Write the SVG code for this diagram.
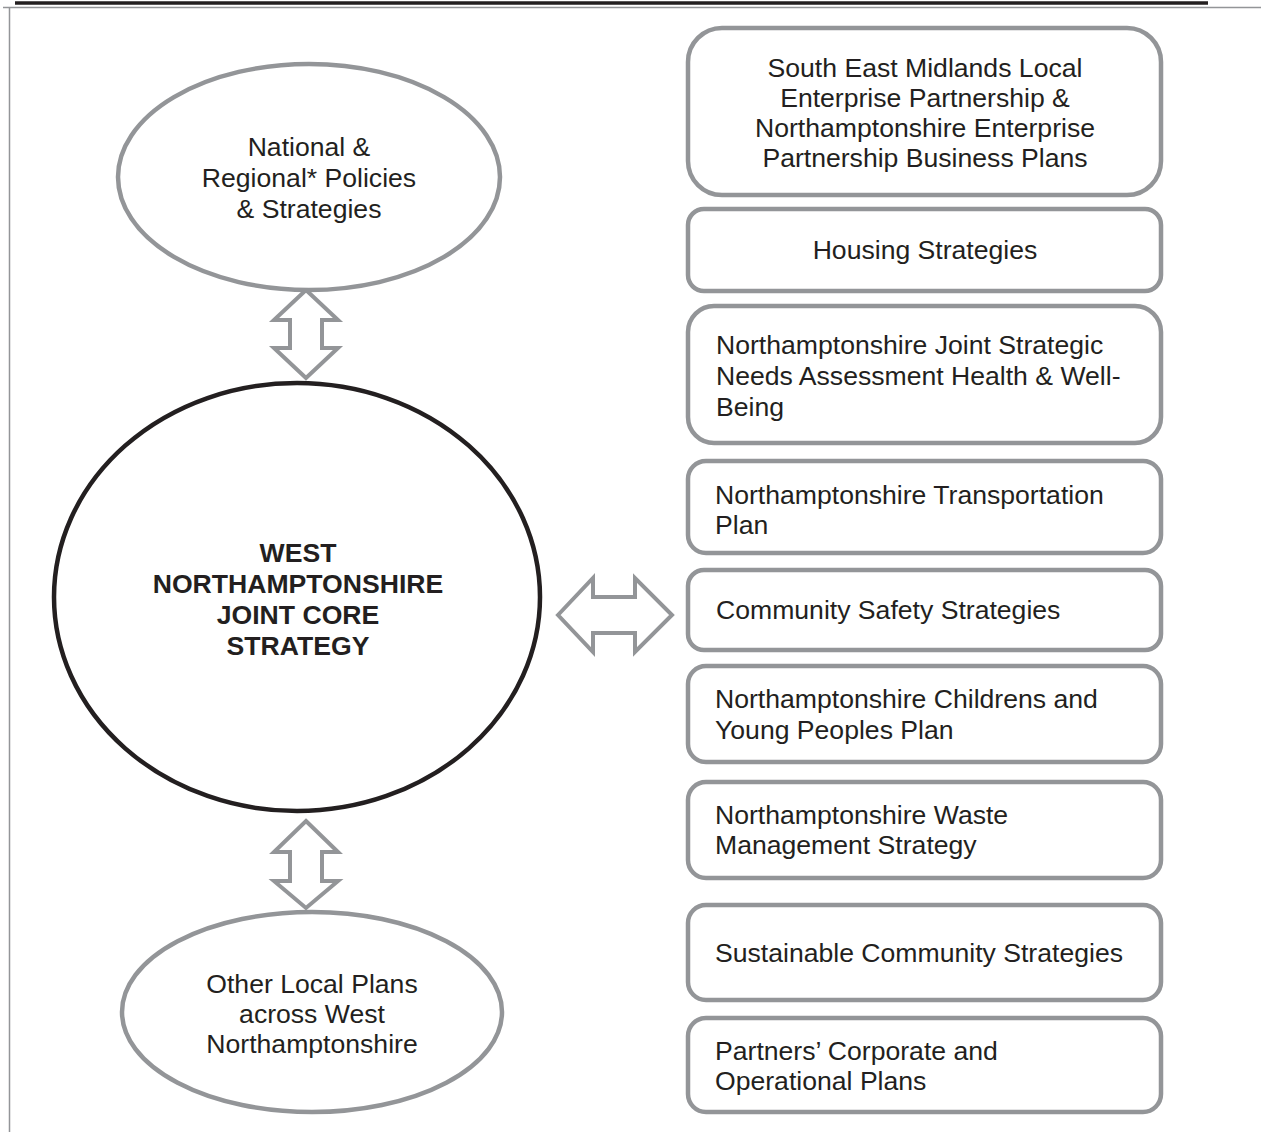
<svg xmlns="http://www.w3.org/2000/svg" width="1261" height="1132" viewBox="0 0 1261 1132">
<style>
.t{font-family:"Liberation Sans",Arial,sans-serif;font-size:26.6px;fill:#231f20}
.c{text-anchor:middle}
.b{font-weight:bold}
.g{fill:#fff;stroke:#939598;stroke-width:4.5}
.arr{fill:#fff;stroke:#939598;stroke-width:4;stroke-linejoin:miter}
</style>
<rect x="0" y="0" width="1261" height="1132" fill="#fff"/>
<g id="frame">
<line x1="15" y1="3" x2="1208" y2="3" stroke="#231f20" stroke-width="3.5"/>
<line x1="3" y1="7.5" x2="1261" y2="7.5" stroke="#939598" stroke-width="1.5"/>
<line x1="9.5" y1="7" x2="9.5" y2="1132" stroke="#939598" stroke-width="1.5"/>
</g>
<g id="connectors">
<path class="arr" d="M306,290 L338,320 L322,320 L322,348 L338,348 L306,378 L274,348 L290,348 L290,320 L274,320 Z"/>
<path class="arr" d="M306,821 L338,852 L322,852 L322,881 L338,881 L306,908 L274,881 L290,881 L290,852 L274,852 Z"/>
<path class="arr" d="M558,615 L593,578 L593,597 L635,597 L635,578 L672,615 L635,652 L635,633 L593,633 L593,652 Z"/>
</g>
<g id="national">
<ellipse class="g" cx="309" cy="177" rx="191" ry="113"/>
<text class="t c" x="309" y="156">National &amp;</text>
<text class="t c" x="309" y="187">Regional* Policies</text>
<text class="t c" x="309" y="218">&amp; Strategies</text>
</g>
<g id="jcs">
<ellipse cx="297" cy="597" rx="243" ry="214" fill="#fff" stroke="#231f20" stroke-width="4.5"/>
<text class="t c b" x="298" y="562">WEST</text>
<text class="t c b" x="298" y="593">NORTHAMPTONSHIRE</text>
<text class="t c b" x="298" y="624">JOINT CORE</text>
<text class="t c b" x="298" y="655">STRATEGY</text>
</g>
<g id="local">
<ellipse class="g" cx="312" cy="1012" rx="190" ry="100"/>
<text class="t c" x="312" y="993">Other Local Plans</text>
<text class="t c" x="312" y="1023">across West</text>
<text class="t c" x="312" y="1053">Northamptonshire</text>
</g>
<g id="semlep">
<rect class="g" x="688" y="28" width="473" height="167" rx="34"/>
<text class="t c" x="925" y="77">South East Midlands Local</text>
<text class="t c" x="925" y="107">Enterprise Partnership &amp;</text>
<text class="t c" x="925" y="137">Northamptonshire Enterprise</text>
<text class="t c" x="925" y="167">Partnership Business Plans</text>
</g>
<g id="housing">
<rect class="g" x="688" y="209" width="473" height="82" rx="16"/>
<text class="t c" x="925" y="259">Housing Strategies</text>
</g>
<g id="jsna">
<rect class="g" x="688" y="306" width="473" height="137" rx="26"/>
<text class="t" x="716" y="354">Northamptonshire Joint Strategic</text>
<text class="t" x="716" y="385">Needs Assessment Health &amp; Well-</text>
<text class="t" x="716" y="416">Being</text>
</g>
<g id="transport">
<rect class="g" x="688" y="461" width="473" height="92" rx="18"/>
<text class="t" x="715" y="504">Northamptonshire Transportation</text>
<text class="t" x="715" y="534">Plan</text>
</g>
<g id="safety">
<rect class="g" x="688" y="570" width="473" height="80" rx="16"/>
<text class="t" x="716" y="619">Community Safety Strategies</text>
</g>
<g id="children">
<rect class="g" x="688" y="666" width="473" height="96" rx="18"/>
<text class="t" x="715" y="708">Northamptonshire Childrens and</text>
<text class="t" x="715" y="739">Young Peoples Plan</text>
</g>
<g id="waste">
<rect class="g" x="688" y="782" width="473" height="96" rx="18"/>
<text class="t" x="715" y="824">Northamptonshire Waste</text>
<text class="t" x="715" y="854">Management Strategy</text>
</g>
<g id="scs">
<rect class="g" x="688" y="905" width="473" height="95" rx="18"/>
<text class="t" x="715" y="962">Sustainable Community Strategies</text>
</g>
<g id="partners">
<rect class="g" x="688" y="1018" width="473" height="94" rx="18"/>
<text class="t" x="715" y="1060">Partners’ Corporate and</text>
<text class="t" x="715" y="1090">Operational Plans</text>
</g>
</svg>
